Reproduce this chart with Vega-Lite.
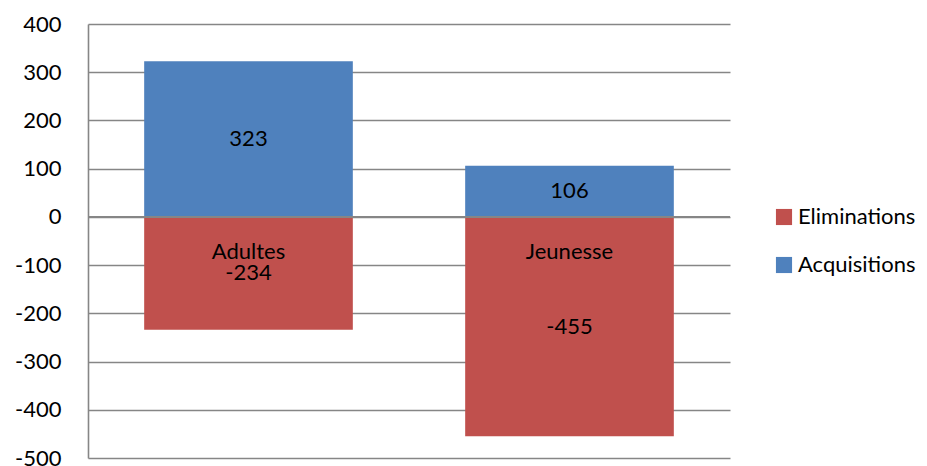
{
  "$schema": "https://vega.github.io/schema/vega-lite/v6.json",
  "width": 642,
  "height": 434,
  "autosize": "none",
  "padding": {"left": 88, "top": 24, "right": 197, "bottom": 8},
  "background": "white",
  "config": {"view": {"stroke": null}, "font": "Lato", "text": {"font": "Lato"}},
  "data": {"values": [
    {"cat": "Adultes", "series": "Acquisitions", "value": 323},
    {"cat": "Adultes", "series": "Eliminations", "value": -234},
    {"cat": "Jeunesse", "series": "Acquisitions", "value": 106},
    {"cat": "Jeunesse", "series": "Eliminations", "value": -455}
  ]},
  "layer": [
    {
      "mark": {"type": "bar"},
      "encoding": {
        "x": {"field": "cat", "type": "nominal", "scale": {"paddingInner": 0.35, "paddingOuter": 0.175}, "axis": null},
        "y": {"field": "value", "type": "quantitative", "stack": null,
          "scale": {"domain": [-500, 400], "nice": false, "zero": false},
          "axis": {"values": [-500, -400, -300, -200, -100, 0, 100, 200, 300, 400], "grid": true, "gridColor": "#868686", "gridWidth": 1.4,
            "domainColor": "#868686", "domainWidth": 1.6, "ticks": false, "labelFontSize": 22, "labelPadding": 27, "labelColor": "#000000", "title": null, "labelFont": "Lato",
            "labelExpr": "'' + datum.value"}},
        "color": {"field": "series", "type": "nominal",
          "scale": {"domain": ["Eliminations", "Acquisitions"], "range": ["#C0504D", "#4F81BD"]},
          "legend": {"title": null, "orient": "none", "legendX": 685, "legendY": 182, "symbolType": "square", "symbolSize": 260,
            "symbolStrokeWidth": 0, "labelFontSize": 22, "labelFont": "Lato", "labelColor": "#000000", "labelOffset": 3, "rowPadding": 26}}
      }
    },
    {
      "mark": {"type": "rule", "color": "#868686", "strokeWidth": 1.6},
      "encoding": {"y": {"datum": 0, "type": "quantitative"}}
    },
    {
      "transform": [{"calculate": "datum.value / 2", "as": "mid"}],
      "mark": {"type": "text", "fontSize": 22, "color": "#000000", "baseline": "middle"},
      "encoding": {
        "x": {"field": "cat", "type": "nominal"},
        "y": {"field": "mid", "type": "quantitative"},
        "text": {"field": "value", "type": "nominal"}
      }
    },
    {
      "transform": [{"filter": "datum.series == 'Eliminations'"}],
      "mark": {"type": "text", "fontSize": 22, "color": "#000000", "baseline": "middle", "dy": 35},
      "encoding": {
        "x": {"field": "cat", "type": "nominal"},
        "y": {"datum": 0, "type": "quantitative"},
        "text": {"field": "cat", "type": "nominal"}
      }
    }
  ]
}
